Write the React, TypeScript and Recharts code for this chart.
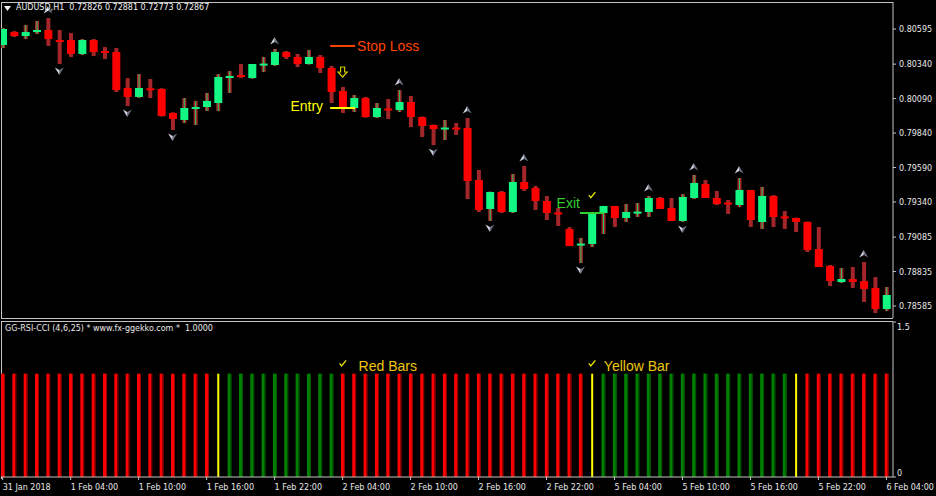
import React from 'react';
import {
  ComposedChart,
  Bar,
  Scatter,
  XAxis,
  YAxis,
  ReferenceLine,
  ReferenceDot,
} from 'recharts';

// AUDUSD H1 candles, 31 Jan 22:00 -> 6 Feb 04:00
const opens = [
  0.80479, 0.80573, 0.80544, 0.80573, 0.80588, 0.80515, 0.80515, 0.80414, 0.80515, 0.80435,
  0.80428, 0.80167, 0.80102, 0.80165, 0.8016, 0.79986, 0.79935, 0.80022, 0.80029, 0.80058,
  0.80247, 0.80261, 0.80239, 0.80337, 0.80334, 0.80428, 0.80392, 0.80341, 0.80392, 0.80312,
  0.80145, 0.80022, 0.80094, 0.79956, 0.80018, 0.80007, 0.80065, 0.79956, 0.79898, 0.79874,
  0.7988, 0.79877, 0.79499, 0.79289, 0.79412, 0.79267, 0.79485, 0.79441, 0.79347, 0.79264,
  0.79144, 0.79031, 0.79035, 0.7926, 0.79311, 0.79224, 0.79264, 0.79267, 0.79369, 0.79296,
  0.79202, 0.79369, 0.7947, 0.79369, 0.79336, 0.79318, 0.79427, 0.79195, 0.79383, 0.79235,
  0.79224, 0.79195, 0.78998, 0.78875, 0.78759, 0.78781, 0.78766, 0.78716, 0.78563,
];
const highs = [
  0.80602, 0.8058, 0.80624, 0.80653, 0.80675, 0.80588, 0.80566, 0.80522, 0.80522, 0.80464,
  0.80457, 0.80239, 0.80268, 0.80232, 0.80165, 0.7999, 0.80094, 0.80073, 0.80131, 0.80268,
  0.8029, 0.80341, 0.80341, 0.80392, 0.8045, 0.80435, 0.80414, 0.80443, 0.80406, 0.80327,
  0.80174, 0.80116, 0.80102, 0.80058, 0.80087, 0.80152, 0.80109, 0.7996, 0.79902, 0.79935,
  0.79913, 0.79949, 0.79572, 0.79415, 0.7942, 0.79543, 0.79601, 0.79456, 0.79383, 0.79296,
  0.79158, 0.79079, 0.79267, 0.79311, 0.79311, 0.79325, 0.79332, 0.79383, 0.79376, 0.79369,
  0.79398, 0.79536, 0.79499, 0.7942, 0.79354, 0.79514, 0.79427, 0.79449, 0.7939, 0.79274,
  0.79226, 0.79198, 0.79158, 0.78883, 0.78861, 0.78868, 0.78904, 0.78795, 0.78723,
];
const lows = [
  0.80457, 0.80537, 0.80522, 0.80559, 0.80472, 0.80341, 0.80392, 0.80406, 0.80399, 0.80377,
  0.80138, 0.80036, 0.80095, 0.80094, 0.7996, 0.79862, 0.79913, 0.79898, 0.8, 0.8,
  0.80131, 0.8024, 0.80235, 0.80283, 0.80327, 0.80377, 0.80319, 0.80337, 0.80276, 0.80058,
  0.79986, 0.79993, 0.79952, 0.79949, 0.79942, 0.79993, 0.79884, 0.79811, 0.79753, 0.7979,
  0.79826, 0.79361, 0.79267, 0.79202, 0.7926, 0.7926, 0.7942, 0.79282, 0.79209, 0.79166,
  0.7902, 0.78897, 0.79013, 0.79108, 0.79158, 0.79195, 0.79231, 0.79231, 0.79289, 0.79202,
  0.79195, 0.79361, 0.79369, 0.79318, 0.79253, 0.79303, 0.79158, 0.79144, 0.79158, 0.79144,
  0.79122, 0.78977, 0.78868, 0.7873, 0.78752, 0.78716, 0.78614, 0.78534, 0.78549,
];
const closes = [
  0.80595, 0.80544, 0.80573, 0.80588, 0.80522, 0.80508, 0.80414, 0.80515, 0.80428, 0.80428,
  0.80152, 0.80102, 0.80167, 0.80158, 0.79964, 0.79942, 0.80022, 0.80029, 0.80073, 0.80247,
  0.80254, 0.80247, 0.80341, 0.80344, 0.80428, 0.80392, 0.80341, 0.80392, 0.80312, 0.80138,
  0.80022, 0.80094, 0.79956, 0.80022, 0.80012, 0.80065, 0.79956, 0.79891, 0.79869, 0.7988,
  0.79872, 0.79492, 0.79282, 0.79412, 0.79267, 0.79485, 0.79434, 0.79347, 0.7926, 0.79256,
  0.7902, 0.79038, 0.7926, 0.79311, 0.79224, 0.79267, 0.7927, 0.79369, 0.79289, 0.79202,
  0.79376, 0.79478, 0.79369, 0.79325, 0.79329, 0.79427, 0.79209, 0.79383, 0.79231, 0.79227,
  0.79195, 0.78991, 0.78868, 0.78766, 0.78781, 0.78759, 0.78708, 0.78563, 0.78665,
];

// GG-RSI-CCI histogram state per bar: R = red, G = green, Y = yellow
const signals = [
  'R', 'R', 'R', 'R', 'R', 'R', 'R', 'R', 'R', 'R', 'R', 'R', 'R', 'R', 'R', 'R', 'R', 'R', 'R', 'Y',
  'G', 'G', 'G', 'G', 'G', 'G', 'G', 'G', 'G', 'G',
  'R', 'R', 'R', 'R', 'R', 'R', 'R', 'R', 'R', 'R', 'R', 'R', 'R', 'R', 'R', 'R', 'R', 'R', 'R', 'R', 'R', 'R', 'Y',
  'G', 'G', 'G', 'G', 'G', 'G', 'G', 'G', 'G', 'G', 'G', 'G', 'G', 'G', 'G', 'G', 'G', 'Y',
  'R', 'R', 'R', 'R', 'R', 'R', 'R', 'R',
];
const signalLevel = 1;

const fractalUp = [4, 24, 35, 41, 46, 57, 61, 65, 76];
const fractalDown = [5, 11, 15, 38, 43, 51, 60];

const priceTicks = [0.80595, 0.8034, 0.8009, 0.7984, 0.7959, 0.7934, 0.79085, 0.78835, 0.78585];
const priceDomain = [0.78498, 0.80791];
const indDomain = [0, 1.5];
const indTicks = [0, 1.5];
const barDomain = [-0.15, 78.58];

const timeTicks = [0, 6, 12, 18, 24, 30, 36, 42, 48, 54, 60, 66, 72, 78];
const timeLabels = [
  '31 Jan 2018', '1 Feb 04:00', '1 Feb 10:00', '1 Feb 16:00', '1 Feb 22:00', '2 Feb 04:00',
  '2 Feb 10:00', '2 Feb 16:00', '2 Feb 22:00', '5 Feb 04:00', '5 Feb 10:00', '5 Feb 16:00',
  '5 Feb 22:00', '6 Feb 04:00',
];

// trade annotations
const stopLoss = { from: 28.9, to: 31.1, price: 0.80472 };
const entry = { from: 28.9, to: 31.1, price: 0.80022 };
const exit = { from: 50.95, to: 53.0, price: 0.7926 };
const entryArrow = { i: 30, price: 0.80283 };
const exitCheck = { i: 52, price: 0.7939 };
const redBarsNote = { i: 30, value: 1.1 };
const yellowBarNote = { i: 52, value: 1.1 };

const candles = opens.map((o, i) => ({
  i,
  open: o,
  high: highs[i],
  low: lows[i],
  close: closes[i],
  range: [lows[i], highs[i]],
}));
const histogram = signals.map((s, i) => ({ i, s, v: signalLevel }));
const upPoints = fractalUp.map((i) => ({ i, price: highs[i] }));
const downPoints = fractalDown.map((i) => ({ i, price: lows[i] }));

const UI_FONT = "'DejaVu Sans', sans-serif";
const TEXT_FONT = "'Liberation Sans', Arial, sans-serif";
const AXIS = '#c4c4c4';

const Candle = (props: any) => {
  const { x, y, width, height, payload } = props;
  const top = Math.min(y, y + height);
  const h = Math.abs(height);
  const { open, close, high, low } = payload;
  const ppu = h / (high - low);
  const cx = x + width / 2;
  const bull = close >= open;
  const bodyTop = top + (high - Math.max(open, close)) * ppu;
  const bodyH = Math.max(2, Math.abs(open - close) * ppu);
  return (
    <g>
      <rect x={cx - 2} y={top} width={4} height={h} fill="#a3262a" />
      {bull && <rect x={cx - 0.5} y={top} width={1} height={h} fill="#27c65f" />}
      <rect x={cx - 4} y={bodyTop} width={8} height={bodyH} fill={bull ? '#12f882' : '#ff0000'} />
    </g>
  );
};

const UpArrow = ({ cx, cy }: any) => {
  const y = cy - 8;
  return (
    <g>
      <path d={`M${cx},${y - 4} L${cx + 4.5},${y + 3.5} L${cx},${y + 1} Z`} fill="#6a6f80" />
      <path d={`M${cx},${y - 4} L${cx - 4.5},${y + 3.5} L${cx},${y + 1} Z`} fill="#d0d4e0" />
    </g>
  );
};

const DownArrow = ({ cx, cy }: any) => {
  const y = cy + 7;
  return (
    <g>
      <path d={`M${cx},${y + 4} L${cx + 4.5},${y - 3.5} L${cx},${y - 1} Z`} fill="#6a6f80" />
      <path d={`M${cx},${y + 4} L${cx - 4.5},${y - 3.5} L${cx},${y - 1} Z`} fill="#d0d4e0" />
    </g>
  );
};

const HollowDown = ({ cx, cy }: any) => (
  <path
    d={`M${cx - 2},${cy - 5} h4 v5 h2.5 L${cx},${cy + 5} L${cx - 4.5},${cy} H${cx - 2} Z`}
    fill="none"
    stroke="#d2c800"
    strokeWidth={1.2}
  />
);

const Check = ({ cx, cy }: any) => (
  <path d={`M${cx - 3},${cy} L${cx - 1},${cy + 2.5} L${cx + 3.5},${cy - 3}`} fill="none" stroke="#e6e000" strokeWidth={1.4} />
);

const PriceTick = ({ x, y, payload }: any) => (
  <g>
    <line x1={x} y1={y} x2={x + 3} y2={y} stroke={AXIS} />
    <text x={x + 6} y={y + 3} fill="#e8e8e8" fontSize={8} fontFamily={UI_FONT}>
      {payload.value.toFixed(5)}
    </text>
  </g>
);

const IndTick = ({ x, y, payload }: any) => (
  <g>
    <line x1={x} y1={y} x2={x + 3} y2={y} stroke={AXIS} />
    <text x={x + 4} y={payload.value > 0 ? y + 8 : y - 1} fill="#e8e8e8" fontSize={8} fontFamily={UI_FONT}>
      {payload.value === 0 ? '0' : payload.value.toFixed(1)}
    </text>
  </g>
);

const TimeTick = ({ x, y, payload }: any) => (
  <g>
    <line x1={x} y1={y} x2={x} y2={y + 3} stroke={AXIS} />
    <text x={x} y={y + 13} fill="#e8e8e8" fontSize={8} fontFamily={UI_FONT}>
      {timeLabels[timeTicks.indexOf(payload.value)]}
    </text>
  </g>
);

const SignalBar = (props: any) => {
  const { x, y, width, height, payload } = props;
  const cx = x + width / 2;
  if (payload.s === 'Y') return <rect x={cx - 1} y={y} width={2} height={height} fill="#ffff00" />;
  const main = payload.s === 'R' ? '#ff0000' : '#008000';
  const dark = payload.s === 'R' ? '#9c0000' : '#005c00';
  return (
    <g>
      <rect x={cx - 2} y={y} width={3} height={height} fill={main} />
      <rect x={cx + 1} y={y} width={1} height={height} fill={dark} />
    </g>
  );
};

const textLabel = (text: string, color: string, dx: number, dy: number, anchor: 'start' | 'end') =>
  ({ cx, cy }: any) => (
    <text x={cx + dx} y={cy + dy} fill={color} fontSize={14} fontFamily={TEXT_FONT} textAnchor={anchor}>
      {text}
    </text>
  );

const NoteMark = (text: string, gap: number) => ({ cx, cy }: any) => (
  <g>
    <Check cx={cx} cy={cy} />
    <text x={cx + gap} y={cy + 8} fill="#efc70e" fontSize={14} fontFamily={TEXT_FONT}>
      {text}
    </text>
  </g>
);

export default function App() {
  return (
    <div style={{ position: 'absolute', left: 0, top: 0, width: 936, height: 496, background: '#000', overflow: 'hidden' }}>
      <div style={{ position: 'absolute', left: 1, top: 2, width: 892, height: 317, boxSizing: 'border-box', borderLeft: `1px solid ${AXIS}`, borderTop: `1px solid ${AXIS}`, borderBottom: `1px solid ${AXIS}` }} />
      <div style={{ position: 'absolute', left: 1, top: 321, width: 892, height: 158, boxSizing: 'border-box', borderLeft: `1px solid ${AXIS}`, borderTop: `1px solid ${AXIS}` }} />

      <div style={{ position: 'absolute', left: 0, top: 0 }}>
        <ComposedChart width={936} height={320} data={candles} margin={{ top: 2, right: 0, bottom: 2, left: 1 }}>
          <XAxis dataKey="i" type="number" domain={barDomain} allowDataOverflow hide />
          <YAxis
            orientation="right"
            type="number"
            width={43}
            domain={priceDomain}
            allowDataOverflow
            ticks={priceTicks}
            interval={0}
            tickSize={0}
            tickMargin={0}
            tickLine={false}
            axisLine={{ stroke: AXIS }}
            tick={<PriceTick />}
          />
          <Bar dataKey="range" barSize={8} shape={<Candle />} isAnimationActive={false} />
          <Scatter data={upPoints} dataKey="price" shape={<UpArrow />} isAnimationActive={false} />
          <Scatter data={downPoints} dataKey="price" shape={<DownArrow />} isAnimationActive={false} />
          <ReferenceLine
            segment={[{ x: stopLoss.from, y: stopLoss.price }, { x: stopLoss.to, y: stopLoss.price }]}
            stroke="#ff4500"
            strokeWidth={2}
          />
          <ReferenceLine
            segment={[{ x: entry.from, y: entry.price }, { x: entry.to, y: entry.price }]}
            stroke="#ffff00"
            strokeWidth={2}
          />
          <ReferenceLine
            segment={[{ x: exit.from, y: exit.price }, { x: exit.to, y: exit.price }]}
            stroke="#32cd32"
            strokeWidth={2}
          />
          <ReferenceDot x={stopLoss.to} y={stopLoss.price} shape={textLabel('Stop Loss', '#ff4500', 2, 5, 'start')} />
          <ReferenceDot x={entry.from} y={entry.price} shape={textLabel('Entry', '#ffff00', -7, 3, 'end')} />
          <ReferenceDot x={exit.from} y={exit.price} shape={textLabel('Exit', '#32cd32', 0, -5, 'end')} />
          <ReferenceDot x={entryArrow.i} y={entryArrow.price} shape={<HollowDown />} />
          <ReferenceDot x={exitCheck.i} y={exitCheck.price} shape={<Check />} />
        </ComposedChart>
      </div>

      <div style={{ position: 'absolute', left: 0, top: 320 }}>
        <ComposedChart width={936} height={176} data={histogram} margin={{ top: 2, right: 0, bottom: 0, left: 1 }}>
          <XAxis
            dataKey="i"
            type="number"
            domain={barDomain}
            allowDataOverflow
            ticks={timeTicks}
            interval={0}
            height={19}
            tickSize={0}
            tickMargin={0}
            tickLine={false}
            axisLine={{ stroke: AXIS }}
            tick={<TimeTick />}
          />
          <YAxis
            orientation="right"
            type="number"
            width={43}
            domain={indDomain}
            allowDataOverflow
            ticks={indTicks}
            interval={0}
            tickSize={0}
            tickMargin={0}
            tickLine={false}
            axisLine={{ stroke: AXIS }}
            tick={<IndTick />}
          />
          <Bar dataKey="v" barSize={4} shape={<SignalBar />} isAnimationActive={false} />
          <ReferenceDot x={redBarsNote.i} y={redBarsNote.value} shape={NoteMark('Red Bars', 16)} />
          <ReferenceDot x={yellowBarNote.i} y={yellowBarNote.value} shape={NoteMark('Yellow Bar', 12)} />
        </ComposedChart>
      </div>

      <div style={{ position: 'absolute', left: 4, top: 2, display: 'flex', alignItems: 'center', gap: 5, color: '#f0f0f0', fontFamily: UI_FONT, fontSize: 8, lineHeight: '12px', whiteSpace: 'pre' }}>
        <svg width={7} height={5}><polygon points="0,0 7,0 3.5,5" fill="#f0f0f0" /></svg>
        <span>AUDUSD,H1  0.72826 0.72881 0.72773 0.72867</span>
      </div>
      <div style={{ position: 'absolute', left: 5, top: 323, color: '#e8e8e8', fontFamily: UI_FONT, fontSize: 8, lineHeight: '12px', whiteSpace: 'pre' }}>
        GG-RSI-CCI (4,6,25) * www.fx-ggekko.com *  1.0000
      </div>
    </div>
  );
}
